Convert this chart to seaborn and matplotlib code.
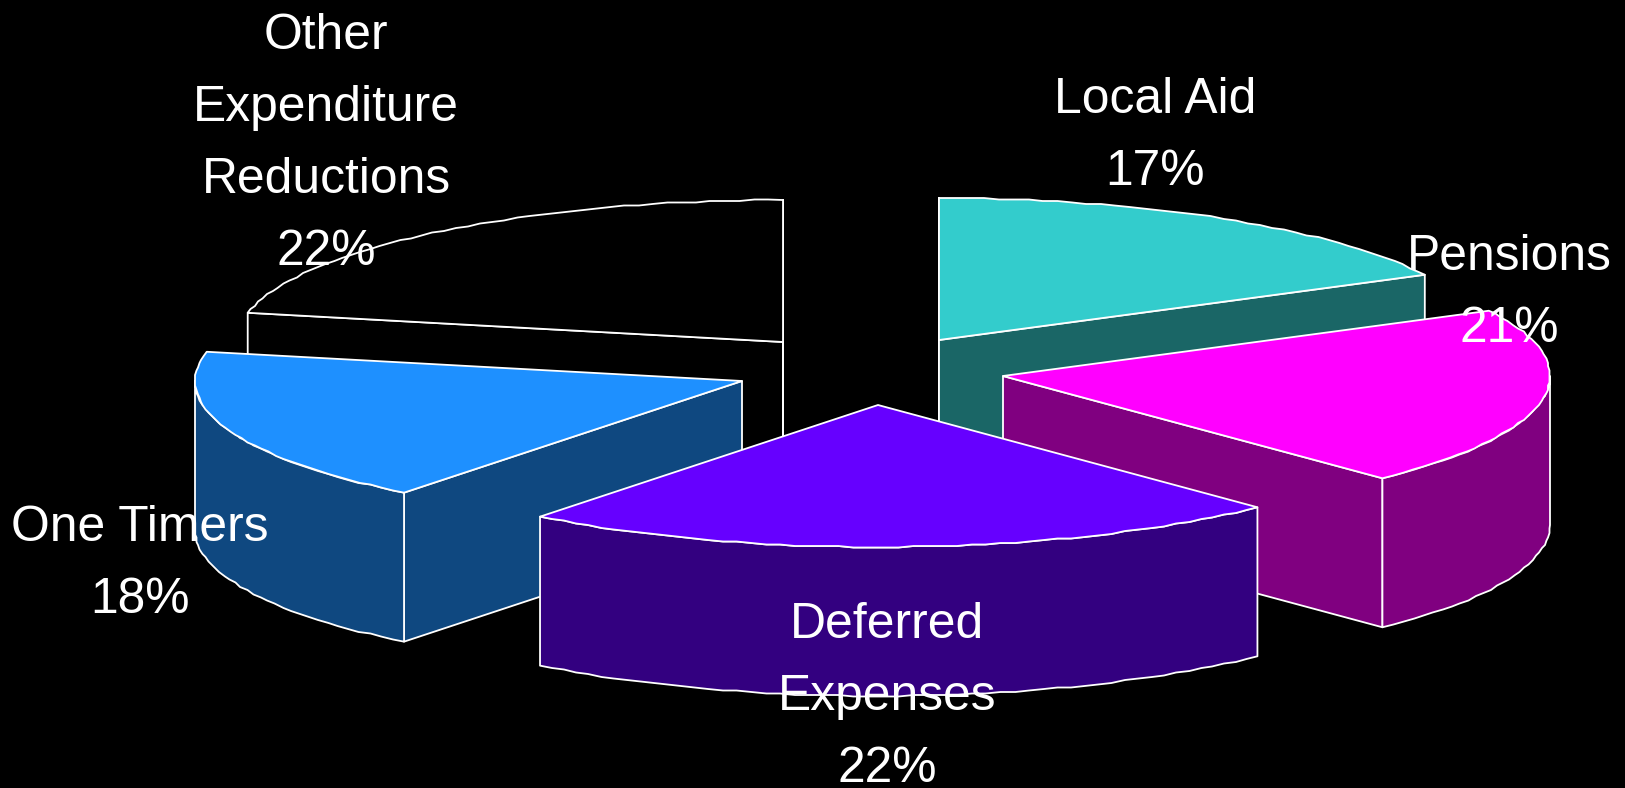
import numpy as np
import matplotlib
matplotlib.use("Agg")
import matplotlib.pyplot as plt
from matplotlib.patches import Polygon
import seaborn as sns

# data
labels = ["Local Aid\n17%", "Pensions\n21%", "Deferred\nExpenses\n22%", "One Timers\n18%",
          "Other\nExpenditure\nReductions\n22%"]
shares = [17.4, 20.4, 22.8, 17.7, 21.7]   # slice sizes as drawn
top_colors = ["#33CCCC", "#FF00FF", "#6600FF", "#1E90FF", "#000000"]

# style / layout
centers = [(939, 340), (1003, 376), (878, 405), (742, 381), (783, 342)]
label_pos = [(1155, 136), (1509, 293), (887, 697), (140, 564), (326, 144)]
draw_order = [4, 0, 3, 1, 2]
RX, RY, DEPTH = 547, 142, 149

sns.set_theme(style="dark", rc={"figure.facecolor": "black", "axes.facecolor": "black"})
plt.rcParams["font.family"] = ["Liberation Sans", "DejaVu Sans"]
palette = sns.color_palette(top_colors)

fig = plt.figure(figsize=(16.25, 7.88), dpi=100, facecolor="black")
ax = fig.add_axes([0, 0, 1, 1])
ax.set_xlim(0, 1625)
ax.set_ylim(788, 0)
ax.axis("off")

edges = np.cumsum([0] + shares) / np.sum(shares) * 2 * np.pi


def arc(cx, cy, a0, a1):
    n = max(int(np.degrees(a1 - a0) / 1.5), 2)
    t = np.linspace(a0, a1, n)
    pts = np.column_stack([cx + RX * np.sin(t), cy - RY * np.cos(t)])
    # slightly stepped rim, as in the low-resolution original
    pts[1:-1] = np.round(pts[1:-1] / 1.5) * 1.5
    return pts


def face(pts, color, z):
    ax.add_patch(Polygon(pts, closed=True, facecolor=color, edgecolor="white",
                         linewidth=1.3, joinstyle="round", zorder=z))


drop = np.array([0, DEPTH])
z = 1
for i in draw_order:
    cx, cy = centers[i]
    a0, a1 = edges[i], edges[i + 1]
    top = palette[i]
    wall = tuple(c * 0.5 for c in top)
    apex = np.array([cx, cy])
    rim = arc(cx, cy, a0, a1)
    # radial walls that face the viewer (or are seen edge-on)
    s0, s1 = np.sin(a0), np.sin(a1)
    if s0 < 1e-6:
        face(np.array([apex, rim[0], rim[0] + drop, apex + drop]), wall, z)
        z += 1
    if s1 > -1e-6:
        face(np.array([apex, rim[-1], rim[-1] + drop, apex + drop]), wall, z)
        z += 1
    # outer wall, only the part facing the viewer
    f0, f1 = max(a0, np.pi / 2), min(a1, 3 * np.pi / 2)
    if f1 > f0:
        front = arc(cx, cy, f0, f1)
        face(np.vstack([front, (front + drop)[::-1]]), wall, z)
        z += 1
    # top face
    face(np.vstack([apex, rim]), top, z)
    z += 1

for text, (x, y) in zip(labels, label_pos):
    ax.text(x, y, text, color="white", fontsize=35.8, ha="center", va="center",
            linespacing=1.72, zorder=100, multialignment="center")

fig.savefig("out.png", dpi=100, facecolor="black")
